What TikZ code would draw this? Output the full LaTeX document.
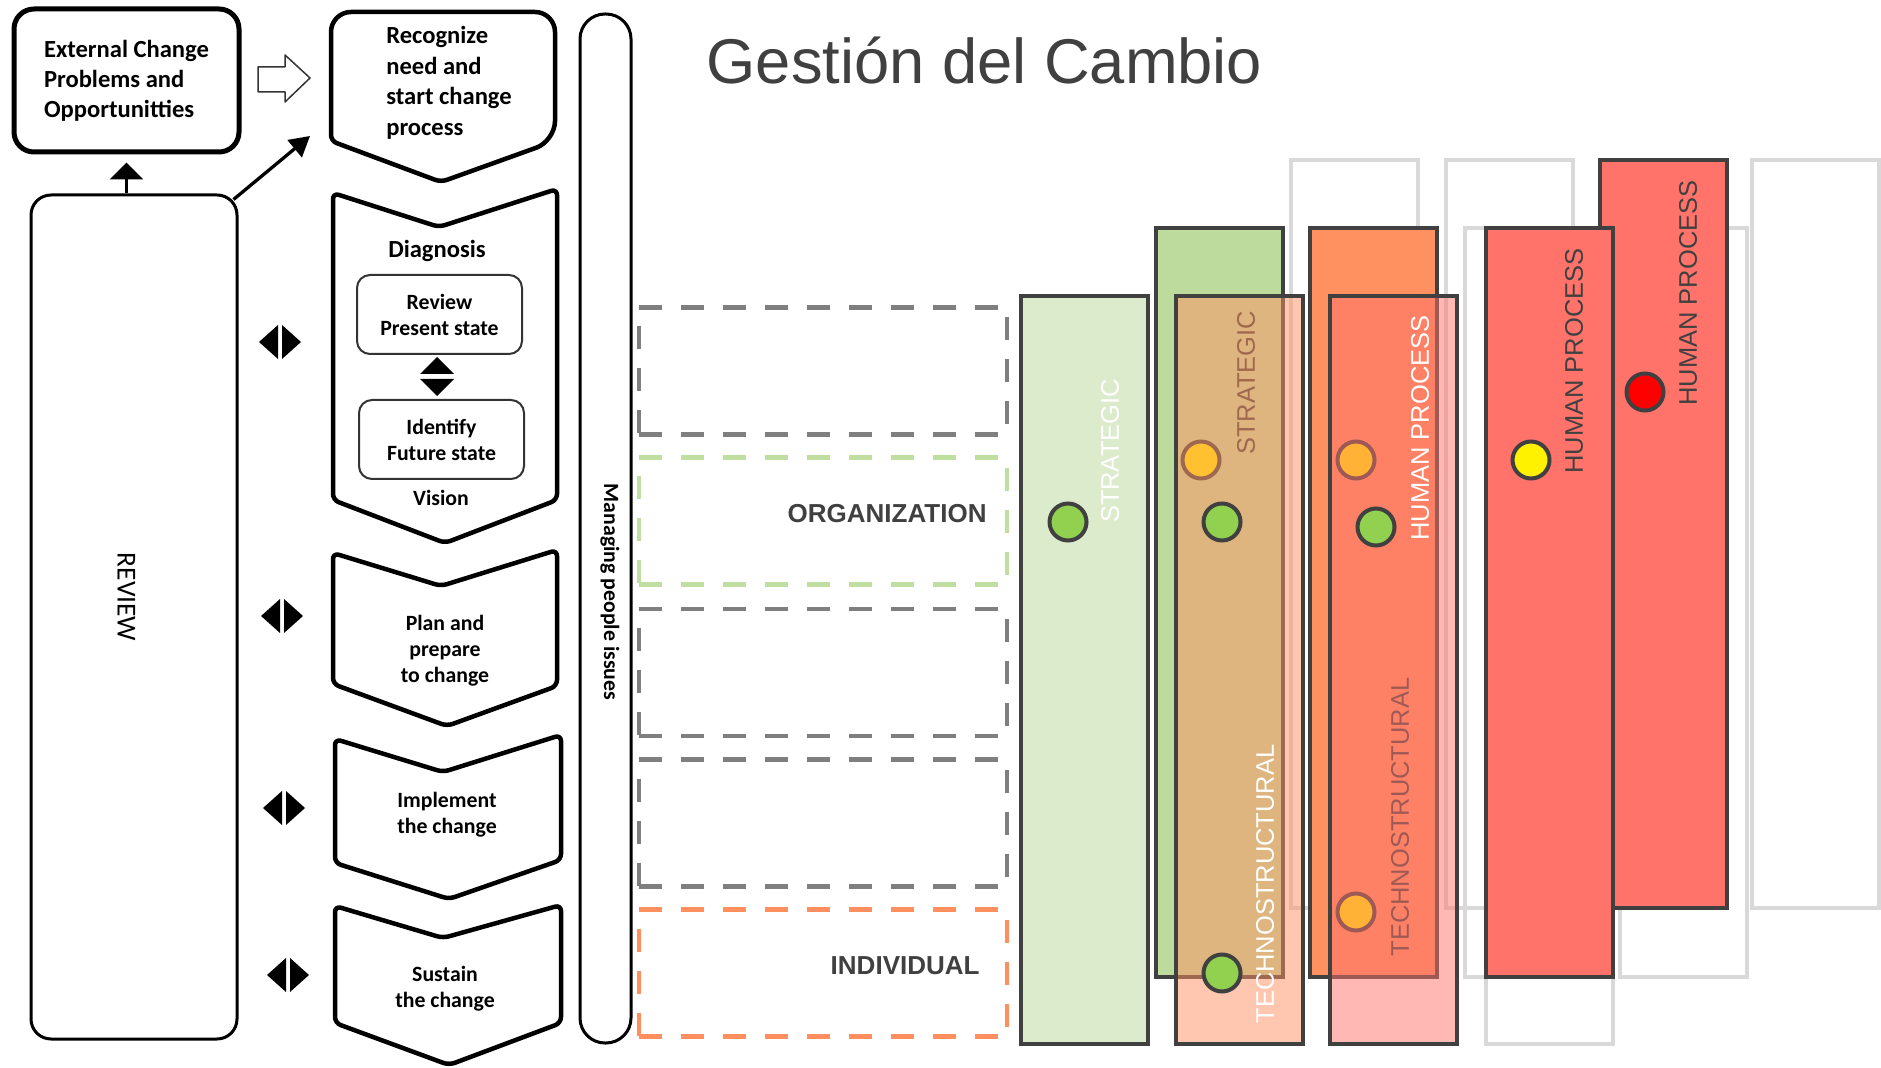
\documentclass[tikz,border=0pt]{standalone}
\usepackage{fontspec}
\setmainfont{Liberation Sans}
\newfontfamily\calfont{Carlito}
\usepackage{tikz}
\usetikzlibrary{positioning,arrows.meta}
\definecolor{grisosc}{HTML}{404040}
\definecolor{grisdash}{HTML}{7F7F7F}
\definecolor{grisclaro}{HTML}{D9D9D9}
\definecolor{verdeclaro}{HTML}{DCEBCC}
\definecolor{verdemed}{HTML}{BDDB9C}
\definecolor{verdepunto}{HTML}{92D050}
\definecolor{verdedash}{HTML}{C0DEA0}
\definecolor{naranja}{HTML}{FF9161}
\definecolor{naranjadash}{HTML}{FF8F5E}
\definecolor{salmon}{HTML}{FF736A}

\begin{document}
\begin{tikzpicture}[
  x=0.1mm, y=-0.1mm,
  caja/.style={draw, line width=0.5mm, rounded corners=2mm, inner sep=0pt},
  chevron/.style={draw, line width=0.45mm, line join=round, rounded corners=0.6mm},
  txt/.style={font=\calfont\bfseries\fontsize{7}{8.7}\selectfont, align=center, inner sep=0pt},
  chica/.style={font=\calfont\bfseries\fontsize{6.2}{7.4}\selectfont, align=center, inner sep=0pt},
  subcaja/.style={chica, draw=black!80, line width=0.2mm, rounded corners=1.3mm, minimum width=16.5mm, minimum height=7.9mm},
  flecha/.style={-{Triangle[length=2mm, width=2.2mm]}, line width=0.33mm},
  nivel/.style={draw, dash pattern=on 2.3mm off 1.9mm, line width=0.45mm, minimum width=36.8mm, minimum height=12.7mm, inner sep=0pt},
  etiqueta/.style={font=\bfseries\fontsize{7.4}{9}\selectfont, text=grisosc, inner sep=0pt},
  columna/.style={draw=grisosc, line width=0.4mm, minimum width=12.7mm, minimum height=74.8mm, inner sep=0pt},
  fantasma/.style={columna, draw=grisclaro},
  vertical/.style={rotate=90, font=\fontsize{7.25}{9}\selectfont, inner sep=0pt},
  punto/.style={circle, draw=grisosc, line width=0.4mm, minimum size=3.7mm, inner sep=0pt}
]
  \useasboundingbox (0,0) rectangle (1881,1068);
  \fill[white] (0,0) rectangle (1881,1068);

  % modelo de cambio
  \node[caja, minimum width=22.5mm, minimum height=14.3mm, align=left, font=\calfont\bfseries\fontsize{7}{8.5}\selectfont] (ext) at (126.5,80.5) {External Change\\Problems and\\Opportunitties};
  \node[draw, line width=0.3mm, rounded corners=2mm, minimum width=20.6mm, minimum height=84.4mm] (review) at (134,617) {};
  \node[rotate=-90, inner sep=0pt, font=\calfont\fontsize{7.8}{9}\selectfont] (revtxt) at (126.5,597) {REVIEW};
  \node[draw, line width=0.3mm, rounded corners=2.5mm, minimum width=5.1mm, minimum height=102.9mm] (gente) at (605.5,528.5) {};
  \node[rotate=-90, inner sep=0pt, font=\calfont\bfseries\fontsize{6.2}{8}\selectfont] (gentetxt) at (610,592) {Managing people issues};

  \draw[chevron] (331,60) [rounded corners=2mm] -- (331,12) -- (555,12) -- (555,141) [rounded corners=0.6mm] -- (441,182) -- (331,141) -- cycle;
  \draw[chevron] (333,193) -- (439,227) -- (557,189) -- (557,500) -- (445,543) -- (333,500) -- cycle;
  \draw[chevron] (333,553) -- (441,586) -- (557,550) -- (557,686) -- (447,726) -- (333,684) -- cycle;
  \draw[chevron] (335,739) -- (443,772) -- (561,735) -- (561,860) -- (449,899) -- (335,863) -- cycle;
  \draw[chevron] (335,906) -- (443,938) -- (561,905) -- (561,1023) -- (449,1065) -- (335,1023) -- cycle;

  \node[txt, align=left] (rec) at (449,83) {Recognize\\need and\\start change\\process};
  \node[txt] (diag) at (437,251) {Diagnosis};
  \node[subcaja] (pres) at (439.5,314.5) {Review\\Present state};
  \node[subcaja] (fut) at (441.5,439.5) {Identify\\Future state};
  \node[chica] (vis) at (441,498) {Vision};
  \node[chica] (plan) at (445,651) {Plan and\\prepare\\to change};
  \node[chica] (impl) at (447,815) {Implement\\the change};
  \node[chica] (sust) at (445,989) {Sustain\\the change};

  \fill (437,357) -- (454,374) -- (420,374) -- cycle;
  \fill (437,396) -- (454,379) -- (420,379) -- cycle;
  \foreach \cx/\cy in {280/342, 282/616, 284/808, 288/975} {
    \fill (\cx-2,\cy-17) -- (\cx-21,\cy) -- (\cx-2,\cy+17) -- cycle;
    \fill (\cx+2,\cy-17) -- (\cx+21,\cy) -- (\cx+2,\cy+17) -- cycle;
  }
  \draw[line width=0.15mm, draw=black!80, fill=white, line join=round] (258,67) -- (285,67) -- (285,55) -- (310,78) -- (285,102) -- (285,92) -- (258,92) -- cycle;

  \coordinate (rec-in) at (310,136);
  \draw[flecha] ([xshift=-0.5mm, yshift=-0.6mm]review.north east) -- (rec-in);
  \draw[-{Triangle[length=1.7mm, width=3.3mm]}, line width=0.3mm, shorten >=0.8mm] (ext.south |- review.north) -- (ext.south);

  % niveles
  \foreach \y/\c [count=\i] in {371/grisdash, 521/verdedash, 672.5/grisdash, 823/grisdash, 973/naranjadash}
    \node[nivel, draw=\c] (nivel\i) at (823,\y) {};
  \node[etiqueta, left=2.2mm of nivel2.east, yshift=0.7mm] (org) {ORGANIZATION};
  \node[etiqueta, left=2.9mm of nivel5.east, yshift=0.7mm] (ind) {INDIVIDUAL};

  \node[anchor=base west, inner sep=0pt, text=grisosc, font=\fontsize{18}{22}\selectfont] (titulo) at (706,84) {Gestión del Cambio};

  % columnas
  \node[fantasma] (g1) at (1354.5,534) {};
  \node[fantasma] (g2) at (1509.5,534) {};
  \node[fantasma] (g3) at (1528.5,602.5) {};
  \node[fantasma] (g4) at (1683.5,602.5) {};
  \node[fantasma] (g5) at (1549.5,670) {};
  \node[fantasma] (g6) at (1815.5,534) {};

  \node[columna, fill=verdeclaro] (c1) at (1084.5,670) {};
  \node[vertical, text=white] (t1) at (1110,451) {STRATEGIC};
  \node[punto, fill=verdepunto] (p1) at (1068,522) {};

  \node[columna, fill=verdemed] (c2) at (1219.5,602.5) {};
  \node[vertical, text=grisosc] (t2) at (1246,383) {STRATEGIC};
  \node[punto, fill=yellow] (p2) at (1201,460) {};

  \node[columna, fill=naranja, fill opacity=0.5] (c3) at (1239.5,670) {};
  \node[vertical, text=white] (t3) at (1265,884) {TECHNOSTRUCTURAL};
  \node[punto, fill=verdepunto] (p3) at (1222,522) {};
  \node[punto, fill=verdepunto] (p4) at (1222,973) {};

  \node[columna, fill=naranja] (c4) at (1373.5,602.5) {};
  \node[vertical, text=grisosc] (t4) at (1400,817) {TECHNOSTRUCTURAL};
  \node[punto, fill=yellow] (p5) at (1356,460) {};
  \node[punto, fill=yellow] (p6) at (1356,912) {};

  \node[columna, fill=salmon, fill opacity=0.5] (c5) at (1393.5,670) {};
  \node[vertical, text=white] (t5) at (1420,428) {HUMAN PROCESS};
  \node[punto, fill=verdepunto] (p7) at (1376,527) {};

  \node[columna, fill=salmon] (c7) at (1663.5,534) {};
  \node[vertical, text=grisosc] (t7) at (1688,293) {HUMAN PROCESS};
  \node[punto, fill=red] (p9) at (1645,392) {};

  \node[columna, fill=salmon] (c6) at (1549.5,602.5) {};
  \node[vertical, text=grisosc] (t6) at (1574,361) {HUMAN PROCESS};
  \node[punto, fill=yellow] (p8) at (1531,460) {};
\end{tikzpicture}
\end{document}
